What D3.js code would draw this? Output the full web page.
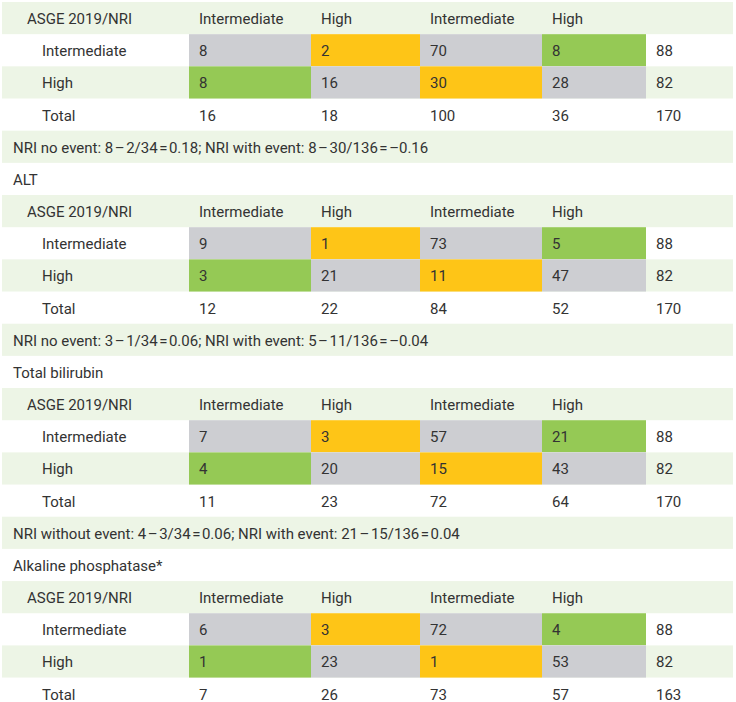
<!DOCTYPE html>
<html><head><meta charset="utf-8">
<script src="https://cdn.jsdelivr.net/npm/d3@7"></script>
<style>body{margin:0;background:#fff}svg{display:block}</style>
</head><body>
<script>
// ---- data ----
const sectionTitles = ["", "ALT", "Total bilirubin", "Alkaline phosphatase*"];
const headerLabels = ["ASGE 2019/NRI", "Intermediate", "High", "Intermediate", "High"];
const rowLabels = ["Intermediate", "High", "Total"];
const intermediateRows = [[8, 2, 70, 8, 88], [9, 1, 73, 5, 88], [7, 3, 57, 21, 88], [6, 3, 72, 4, 88]];
const highRows = [[8, 16, 30, 28, 82], [3, 21, 11, 47, 82], [4, 20, 15, 43, 82], [1, 23, 1, 53, 82]];
const totalRows = [[16, 18, 100, 36, 170], [12, 22, 84, 52, 170], [11, 23, 72, 64, 170], [7, 26, 73, 57, 163]];
const nriNotes = [
  "NRI no event: 8\u200a\u2013\u200a2/34\u200a=\u200a0.18; NRI with event: 8\u200a\u2013\u200a30/136\u200a=\u200a\u20130.16",
  "NRI no event: 3\u200a\u2013\u200a1/34\u200a=\u200a0.06; NRI with event: 5\u200a\u2013\u200a11/136\u200a=\u200a\u20130.04",
  "NRI without event: 4\u200a\u2013\u200a3/34\u200a=\u200a0.06; NRI with event: 21\u200a\u2013\u200a15/136\u200a=\u200a0.04",
  null
];
const cellKinds = [["gray", "orange", "gray", "green"], ["green", "gray", "orange", "gray"]];

// ---- style ----
const W = 736, H = 702;
const colors = {bg: "#edf5e6", gray: "#cdced2", orange: "#fec517", green: "#95c955", text: "#333333"};
const colEdges = [2, 189, 311, 420, 542, 646, 733];
const labelX = 27, rowLabelX = 42, noteX = 13, cellPad = 10;

// build row list
const rows = [];
sectionTitles.forEach((t, s) => {
  if (s > 0) rows.push({type: "title", text: t});
  rows.push({type: "header"});
  rows.push({type: "int", s});
  rows.push({type: "high", s});
  rows.push({type: "total", s});
  if (nriNotes[s]) rows.push({type: "note", text: nriNotes[s]});
});

const rowH = 32.17;
const y = d3.scaleBand().domain(d3.range(rows.length)).range([2, 2 + rows.length * rowH]).paddingInner(0);
const x = d3.scaleOrdinal().domain(d3.range(colEdges.length)).range(colEdges);

const svg = d3.select("body").append("svg").attr("width", W).attr("height", H)
  .style("font-family", "Roboto, 'Noto Sans', sans-serif").style("font-size", "15px");

const g = svg.selectAll("g.row").data(rows).join("g").attr("class", "row")
  .attr("transform", (d, i) => `translate(0,${y(i)})`);

const bh = y.bandwidth();
// green backgrounds
g.filter(d => d.type === "header" || d.type === "high" || d.type === "note")
  .append("rect").attr("x", x(0)).attr("width", x(6) - x(0)).attr("height", bh).attr("fill", colors.bg);

// colored cells
g.filter(d => d.type === "int" || d.type === "high").each(function(d) {
  const kinds = cellKinds[d.type === "int" ? 0 : 1];
  d3.select(this).selectAll("rect.cell").data(kinds).join("rect").attr("class", "cell")
    .attr("x", (k, j) => x(j + 1)).attr("width", (k, j) => x(j + 2) - x(j + 1))
    .attr("height", bh).attr("fill", k => colors[k]);
});

const ty = bh / 2 + 6;
// text
g.each(function(d) {
  const sel = d3.select(this);
  const txt = (tx, s) => sel.append("text").attr("x", tx).attr("y", ty).attr("fill", colors.text).text(s);
  if (d.type === "title" || d.type === "note") txt(noteX, d.text);
  else if (d.type === "header") {
    txt(labelX, headerLabels[0]);
    headerLabels.slice(1).forEach((h, j) => txt(x(j + 1) + cellPad, h));
  } else {
    const vals = d.type === "int" ? intermediateRows[d.s] : d.type === "high" ? highRows[d.s] : totalRows[d.s];
    txt(rowLabelX, rowLabels[d.type === "int" ? 0 : d.type === "high" ? 1 : 2]);
    vals.forEach((v, j) => txt(x(j + 1) + cellPad, v));
  }
});
</script>
</body></html>
